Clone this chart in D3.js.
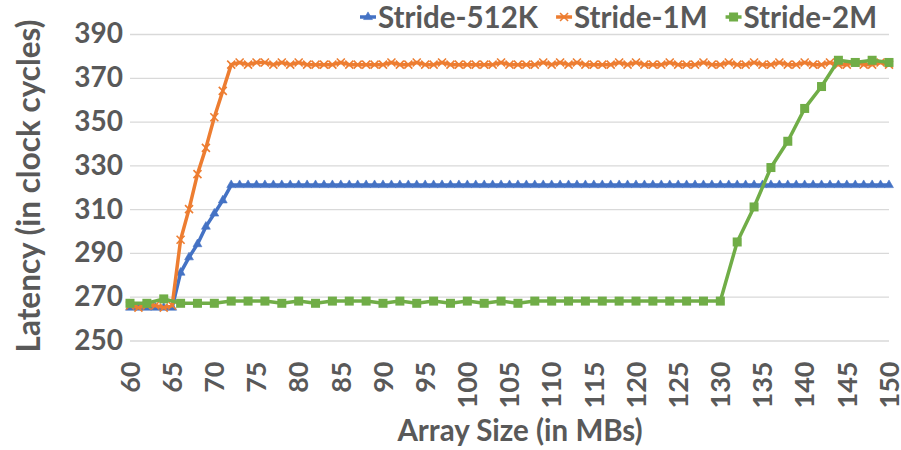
<!DOCTYPE html>
<html>
<head>
<meta charset="utf-8">
<script src="https://cdn.jsdelivr.net/npm/d3@7"></script>
<style>
  html, body { margin: 0; padding: 0; background: #fff; }
  svg { display: block; }
  text { font-family: Lato, "Open Sans", sans-serif; font-weight: 700; fill: #595959; }
</style>
</head>
<body>
<svg id="chart" width="901" height="450"></svg>
<script>
// Array sizes (MB) sampled for the 512K and 1M strides
const arraySizes = [
  60, 61, 62, 63, 64, 65, 66, 67, 68, 69,
  70, 71, 72, 73, 74, 75, 76, 77, 78, 79,
  80, 81, 82, 83, 84, 85, 86, 87, 88, 89,
  90, 91, 92, 93, 94, 95, 96, 97, 98, 99,
  100, 101, 102, 103, 104, 105, 106, 107, 108, 109,
  110, 111, 112, 113, 114, 115, 116, 117, 118, 119,
  120, 121, 122, 123, 124, 125, 126, 127, 128, 129,
  130, 131, 132, 133, 134, 135, 136, 137, 138, 139,
  140, 141, 142, 143, 144, 145, 146, 147, 148, 149,
  150
];

// Array sizes (MB) sampled for the 2M stride
const arraySizes2M = [
  60, 62, 64, 66, 68, 70, 72, 74, 76, 78,
  80, 82, 84, 86, 88, 90, 92, 94, 96, 98,
  100, 102, 104, 106, 108, 110, 112, 114, 116, 118,
  120, 122, 124, 126, 128, 130, 132, 134, 136, 138,
  140, 142, 144, 146, 148, 150
];

// Latency in clock cycles
const latency512K = [
  265, 265, 265, 265, 265, 265, 281, 288, 294, 302,
  308, 314, 321, 321, 321, 321, 321, 321, 321, 321,
  321, 321, 321, 321, 321, 321, 321, 321, 321, 321,
  321, 321, 321, 321, 321, 321, 321, 321, 321, 321,
  321, 321, 321, 321, 321, 321, 321, 321, 321, 321,
  321, 321, 321, 321, 321, 321, 321, 321, 321, 321,
  321, 321, 321, 321, 321, 321, 321, 321, 321, 321,
  321, 321, 321, 321, 321, 321, 321, 321, 321, 321,
  321, 321, 321, 321, 321, 321, 321, 321, 321, 321,
  321
];

const latency1M = [
  266, 265, 266, 266, 265, 266, 296, 310, 326, 338,
  352, 364, 376, 377, 376, 377, 377, 376, 377, 376,
  377, 376, 376, 376, 376, 377, 376, 376, 376, 376,
  376, 377, 376, 376, 377, 376, 376, 377, 376, 376,
  376, 376, 376, 376, 377, 376, 376, 376, 376, 377,
  376, 377, 376, 377, 376, 376, 376, 376, 377, 376,
  377, 376, 376, 376, 377, 376, 376, 376, 377, 376,
  376, 377, 376, 376, 377, 376, 376, 377, 376, 376,
  377, 376, 376, 377, 376, 376, 377, 376, 376, 377,
  376
];

const latency2M = [
  267, 267, 269, 267, 267, 267, 268, 268, 268, 267,
  268, 267, 268, 268, 268, 267, 268, 267, 268, 267,
  268, 267, 268, 267, 268, 268, 268, 268, 268, 268,
  268, 268, 268, 268, 268, 268, 295, 311, 329, 341,
  356, 366, 378, 377, 378, 377
];

const seriesNames = ["Stride-512K", "Stride-1M", "Stride-2M"];
const xTickValues = [60, 65, 70, 75, 80, 85, 90, 95, 100, 105, 110, 115, 120, 125, 130, 135, 140, 145, 150];
const yTickValues = [250, 270, 290, 310, 330, 350, 370, 390];

const series = [
  { name: seriesNames[0], xs: arraySizes,   ys: latency512K, color: "#4472C4", marker: "triangle" },
  { name: seriesNames[1], xs: arraySizes,   ys: latency1M,   color: "#ED7D31", marker: "cross" },
  { name: seriesNames[2], xs: arraySizes2M, ys: latency2M,   color: "#70AD47", marker: "square" }
];

const svg = d3.select("#chart");
const plot = { left: 130, right: 889, top: 34, bottom: 340.5 };

const x = d3.scaleLinear().domain([60, 150]).range([plot.left, plot.right]);
const y = d3.scaleLinear().domain([250, 390]).range([plot.bottom, plot.top]);

// Horizontal gridlines and value labels
const yAxis = d3.axisLeft(y).tickValues(yTickValues).tickSize(-(plot.right - plot.left));
const gy = svg.append("g").attr("transform", `translate(${plot.left},0)`).call(yAxis);
gy.select(".domain").remove();
gy.selectAll(".tick line").attr("stroke", "#D9D9D9").attr("stroke-width", 1.3);
gy.selectAll(".tick text")
  .attr("x", -7)
  .attr("font-size", 28)
  .style("font-family", "Lato, 'Open Sans', sans-serif")
  .style("font-weight", 700)
  .attr("fill", "#595959");

// Array size labels along the bottom, rotated
const xAxis = d3.axisBottom(x).tickValues(xTickValues).tickSize(0);
const gx = svg.append("g").attr("transform", `translate(0,${plot.bottom})`).call(xAxis);
gx.select(".domain").remove();
gx.selectAll(".tick text")
  .attr("transform", "rotate(-90)")
  .attr("x", -21)
  .attr("y", 0)
  .attr("dy", "0.34em")
  .attr("text-anchor", "end")
  .attr("font-size", 27)
  .style("font-family", "Lato, 'Open Sans', sans-serif")
  .style("font-weight", 700)
  .attr("fill", "#595959");

// Axis titles
svg.append("text")
  .attr("transform", `translate(40,186) rotate(-90)`)
  .attr("text-anchor", "middle")
  .attr("font-size", 31.5)
  .text("Latency (in clock cycles)");

svg.append("text")
  .attr("x", 520)
  .attr("y", 441)
  .attr("text-anchor", "middle")
  .attr("font-size", 29.5)
  .text("Array Size (in MBs)");

// Marker shapes
function drawMarker(g, type, color, cx, cy) {
  if (type === "triangle") {
    g.append("path")
      .attr("d", d3.symbol(d3.symbolTriangle, 34)())
      .attr("transform", `translate(${cx},${cy})`)
      .attr("fill", color)
      .attr("stroke", color)
      .attr("stroke-width", 0.6);
  } else if (type === "cross") {
    const s = 4;
    g.append("path")
      .attr("d", `M${cx - s},${cy - s}L${cx + s},${cy + s}M${cx - s},${cy + s}L${cx + s},${cy - s}`)
      .attr("stroke", color)
      .attr("stroke-width", 1.6)
      .attr("fill", "none");
  } else {
    const s = 9;
    g.append("rect")
      .attr("x", cx - s / 2).attr("y", cy - s / 2)
      .attr("width", s).attr("height", s)
      .attr("fill", color);
  }
}

// Series lines with markers
const line = d3.line().x(d => x(d[0])).y(d => y(d[1]));
series.forEach(s => {
  const pts = s.xs.map((v, i) => [v, s.ys[i]]);
  const g = svg.append("g");
  g.append("path")
    .attr("d", line(pts))
    .attr("fill", "none")
    .attr("stroke", s.color)
    .attr("stroke-width", 3.5)
    .attr("stroke-linejoin", "round");
  pts.forEach(p => drawMarker(g, s.marker, s.color, x(p[0]), y(p[1])));
});

// Legend across the top
const legend = svg.append("g");
let lx = 360;
const ly = 17;
series.forEach(s => {
  const item = legend.append("g");
  item.append("line")
    .attr("x1", lx).attr("x2", lx + 16)
    .attr("y1", ly).attr("y2", ly)
    .attr("stroke", s.color).attr("stroke-width", 3.5);
  drawMarker(item, s.marker, s.color, lx + 8, ly);
  const t = item.append("text")
    .attr("x", lx + 18)
    .attr("y", ly + 10.5)
    .attr("font-size", 29.5)
    .text(s.name);
  lx += 18 + t.node().getComputedTextLength() + 18;
});
</script>
</body>
</html>
